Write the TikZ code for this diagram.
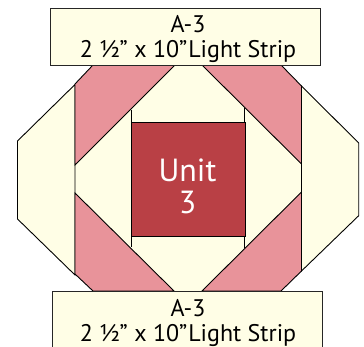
\documentclass[tikz,border=0pt]{standalone}
\usepackage{fontspec}
\setmainfont{PT Sans}
\definecolor{cream}{HTML}{FFFEE6}
\definecolor{rosepink}{HTML}{E8939A}
\definecolor{brick}{HTML}{B94045}
\tikzset{
  patch/.style={draw=black,line width=0.9pt,line join=miter},
  creampatch/.style={patch,fill=cream},
  pinkpatch/.style={patch,fill=rosepink},
  stripbox/.style={creampatch,draw=black!85,line width=1pt},
  striptext/.style={inner sep=0pt,align=center,font=\fontsize{24}{24.5}\selectfont,text=black},
  unittext/.style={inner sep=0pt,align=center,text=white,font=\fontsize{32}{32}\selectfont}
}
\newcommand{\striplabel}{A-3\\2 ½\textquotedblright\ x 10\textquotedblright\kern1pt Light Strip}
\begin{document}
\begin{tikzpicture}[x=1pt,y=-1pt]
\useasboundingbox (0,0) rectangle (364,347);
\clip (0,0) rectangle (364,347);
% centre ground
\fill[cream] (93,65) -- (281,65) -- (301.5,86) -- (301.5,271) -- (281,291) -- (93,291) -- (75,274) -- (75,84) -- cycle;
% side octagon pieces
\draw[creampatch] (75,84.5) -- (17.5,141) -- (17.5,219) -- (75,275) -- cycle;
\draw[creampatch] (301.5,86) -- (358.7,143) -- (358.7,215.7) -- (301.5,271) -- cycle;
% rose corners
\draw[pinkpatch] (93,65) -- (175,65) -- (75,165) -- (75,84) -- cycle;
\draw[pinkpatch] (202,65) -- (281,65) -- (301.5,86) -- (301.5,164) -- cycle;
\draw[pinkpatch] (75,193) -- (174,291) -- (93,291) -- (75,274) -- cycle;
\draw[pinkpatch] (301.5,192) -- (301.5,271) -- (281,291) -- (202,291) -- cycle;
% centre square
\draw[patch] (131,110) -- (131,247);
\draw[patch] (244.7,108) -- (244.7,248);
\node[patch,fill=brick,minimum width=113.7pt,minimum height=113.7pt,inner sep=0pt,anchor=north west] (centre) at (131,122) {};
\node[unittext] (unitlabel) at (187.5,186) {Unit\\3};
% strips
\node[stripbox,anchor=north west,minimum width=270pt,minimum height=57pt,inner sep=0pt] (topstrip) at (49.5,8) {};
\node[striptext] (toplabel) at (188,39) {\striplabel};
\node[stripbox,anchor=north west,minimum width=270pt,minimum height=70pt,inner sep=0pt] (botstrip) at (52,291) {};
\node[striptext] (botlabel) at (188,323) {\striplabel};
\end{tikzpicture}
\end{document}
